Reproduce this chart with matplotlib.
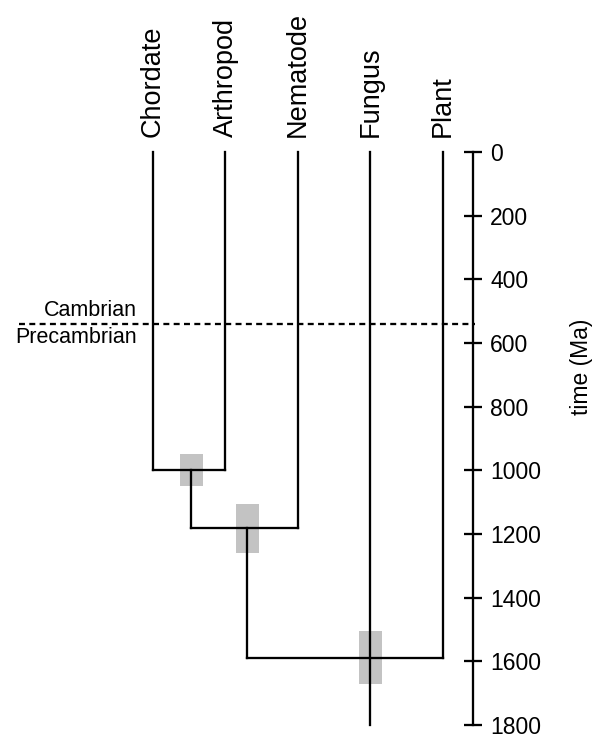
import matplotlib
matplotlib.use("Agg")
import matplotlib.pyplot as plt
from matplotlib.patches import Rectangle

plt.rcParams['font.family'] = ['Liberation Sans', 'DejaVu Sans']

# leaves, left to right
taxa = ['Chordate', 'Arthropod', 'Nematode', 'Fungus', 'Plant']

# internal nodes: age (Ma), uncertainty range (Ma), horizontal position
node_age = [1000, 1180, 1590]
node_lo = [950, 1105, 1505]
node_hi = [1050, 1260, 1670]
node_x = [0.53, 1.3, 3.0]
root_age = 1800

boundary_age = 541
yticks = [0, 200, 400, 600, 800, 1000, 1200, 1400, 1600, 1800]

fig = plt.figure(figsize=(5.92, 7.34), dpi=100)
ax = fig.add_axes([0, 0, 1, 1])
ax.set_xlim(-2.11, 6.055)
ax.set_ylim(1828.5, -477.5)

lw = 1.65
kw = dict(color='black', lw=lw, solid_capstyle='projecting', zorder=3)

# uncertainty boxes
bw = 0.32
for x, lo, hi in zip(node_x, node_lo, node_hi):
    ax.add_patch(Rectangle((x - bw / 2, lo), bw, hi - lo,
                           facecolor='#c3c3c3', edgecolor='none', zorder=2))

# Chordate + Arthropod
ax.plot([0, 0], [0, node_age[0]], **kw)
ax.plot([1, 1], [0, node_age[0]], **kw)
ax.plot([0, 1], [node_age[0], node_age[0]], **kw)
# + Nematode
ax.plot([node_x[0], node_x[0]], [node_age[0], node_age[1]], **kw)
ax.plot([2, 2], [0, node_age[1]], **kw)
ax.plot([node_x[0], 2], [node_age[1], node_age[1]], **kw)
# + Fungus / Plant
ax.plot([node_x[1], node_x[1]], [node_age[1], node_age[2]], **kw)
ax.plot([4, 4], [0, node_age[2]], **kw)
ax.plot([node_x[1], 4], [node_age[2], node_age[2]], **kw)
ax.plot([3, 3], [0, root_age], **kw)

for i, name in enumerate(taxa):
    ax.text(i, -47, name, rotation=90, ha='center', va='bottom', fontsize=19.5)

# Cambrian boundary
ax.plot([-1.85, 4.44], [boundary_age, boundary_age], color='black', lw=lw,
        linestyle=(0, (2.6, 1.9)), zorder=3)
ax.text(-0.22, boundary_age - 10, 'Cambrian', ha='right', va='bottom', fontsize=15.5)
ax.text(-0.22, boundary_age + 8, 'Precambrian', ha='right', va='top', fontsize=15.5)

# time axis
for s in ['left', 'top', 'bottom']:
    ax.spines[s].set_visible(False)
ax.spines['right'].set_position(('data', 4.41))
ax.spines['right'].set_bounds(0, 1800)
ax.spines['right'].set_linewidth(lw)
ax.set_xticks([])
ax.yaxis.tick_right()
ax.set_yticks(yticks)
ax.tick_params(axis='y', direction='inout', length=13, width=lw, pad=6,
               labelsize=16.5)
ax.yaxis.set_label_position('right')
ax.set_ylabel('time (Ma)', fontsize=16.5)
ax.yaxis.set_label_coords(0.963, 0.5)

fig.savefig('out.png', dpi=100)
